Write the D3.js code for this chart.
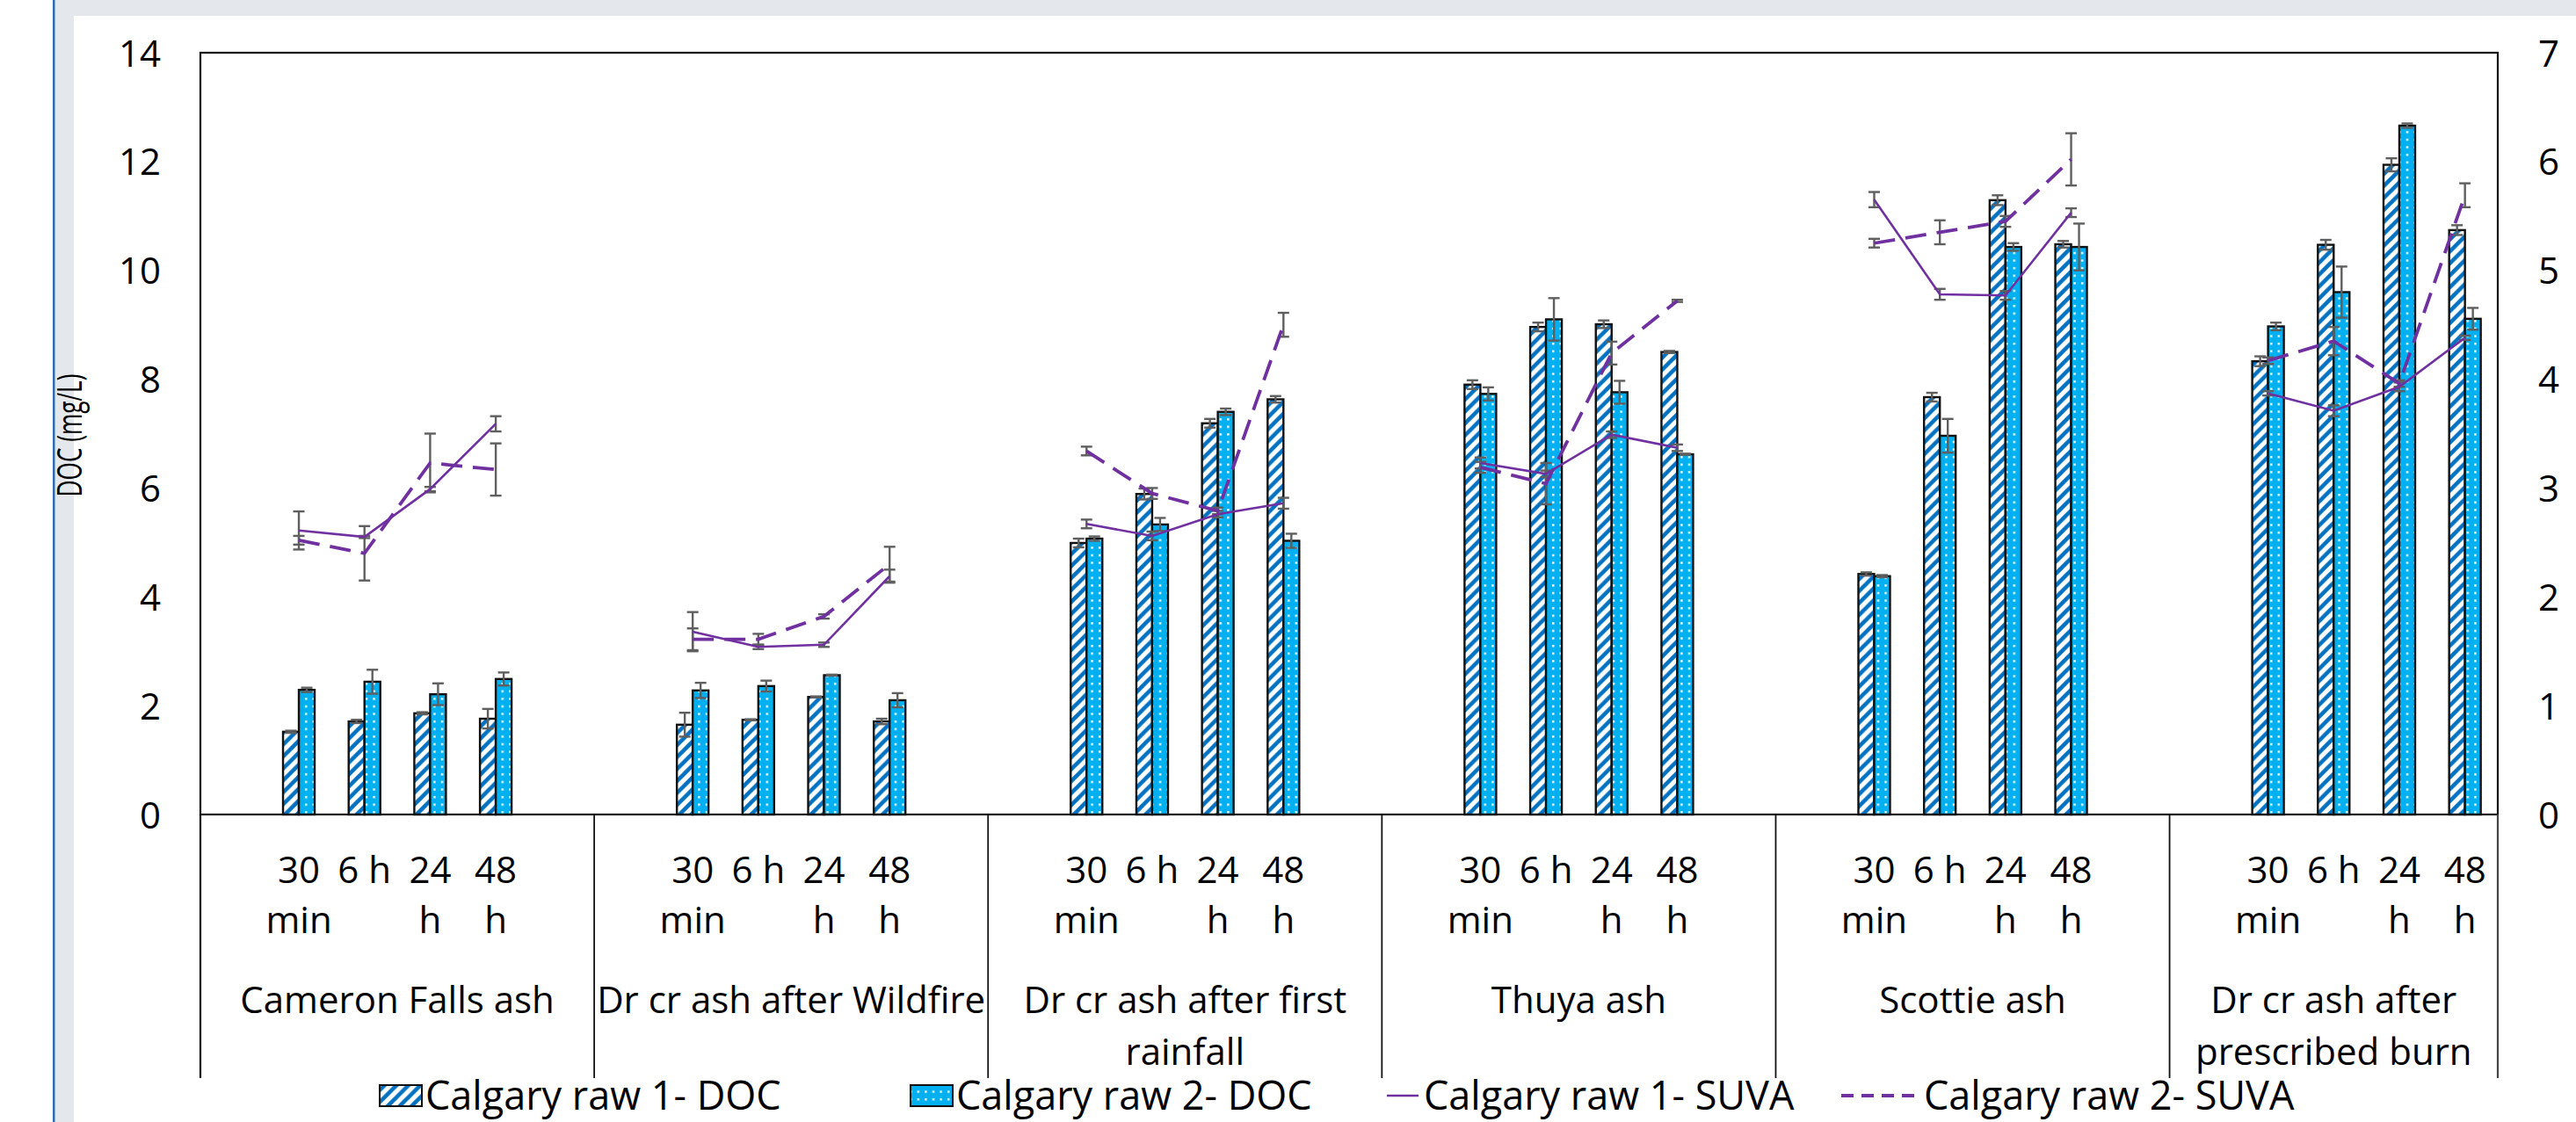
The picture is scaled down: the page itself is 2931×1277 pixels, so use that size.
<!DOCTYPE html>
<html>
<head>
<meta charset="utf-8">
<script src="https://cdn.jsdelivr.net/npm/d3@7"></script>
<style>
  html, body { margin: 0; padding: 0; background: #fff; }
  svg { display: block; }
  text { font-family: "Open Sans", sans-serif; fill: #000; }
</style>
</head>
<body>
<svg id="chart" width="2931" height="1277"></svg>
<script>
// ---- data -------------------------------------------------------------
const groups = [
  "Cameron Falls ash",
  "Dr cr ash after Wildfire",
  "Dr cr ash after first rainfall",
  "Thuya ash",
  "Scottie ash",
  "Dr cr ash after prescribed burn"
];
const timeLabels = ["30 min", "6 h", "24 h", "48 h"];

// DOC (mg/L), four sampling times per ash, groups in the order above
const doc1 = [1.52, 1.71, 1.86, 1.76,  1.65, 1.74, 2.16, 1.71,  4.99, 5.89, 7.19, 7.63,
              7.90, 8.96, 9.01, 8.50,  4.42, 7.67, 11.29, 10.48, 8.33, 10.47, 11.94, 10.74];
const doc1Err = [0.02, 0.03, 0.02, 0.18,  0.22, 0.01, 0.01, 0.05,  0.08, 0.10, 0.08, 0.06,
                 0.08, 0.08, 0.07, 0.02,  0.03, 0.08, 0.09, 0.06,  0.09, 0.09, 0.12, 0.09];
const doc2 = [2.29, 2.44, 2.21, 2.49,  2.28, 2.36, 2.56, 2.10,  5.07, 5.33, 7.40, 5.03,
              7.73, 9.10, 7.76, 6.62,  4.38, 6.96, 10.43, 10.43, 8.97, 9.60, 12.66, 9.11];
const doc2Err = [0.04, 0.22, 0.20, 0.12,  0.14, 0.10, 0.01, 0.13,  0.04, 0.12, 0.06, 0.13,
                 0.12, 0.39, 0.21, 0.01,  0.02, 0.31, 0.07, 0.43,  0.07, 0.47, 0.04, 0.20];

// SUVA (right axis)
const suva1 = [2.61, 2.55, 2.99, 3.59,  1.68, 1.54, 1.56, 2.19,  2.67, 2.56, 2.76, 2.86,
               3.23, 3.13, 3.49, 3.37,  5.65, 4.78, 4.77, 5.53,  3.87, 3.71, 3.93, 4.38];
const suva1Err = [0.175, 0.01, 0.02, 0.07,  0.18, 0.02, 0.02, 0.06,  0.04, 0.04, 0.03, 0.05,
                  0.05, 0.03, 0.03, 0.03,  0.07, 0.05, 0.04, 0.04,  0.02, 0.05, 0.04, 0.02];
const suva2 = [2.52, 2.40, 3.23, 3.17,  1.61, 1.61, 1.82, 2.30,  3.34, 2.95, 2.79, 4.50,
               3.19, 3.04, 4.24, 4.72,  5.25, 5.35, 5.45, 6.02,  4.17, 4.35, 3.96, 5.69];
const suva2Err = [0.04, 0.25, 0.27, 0.24,  0.10, 0.05, 0.02, 0.16,  0.04, 0.05, 0.03, 0.11,
                  0.05, 0.19, 0.105, 0.01, 0.04, 0.11, 0.05, 0.24,  0.03, 0.13, 0.03, 0.11];

const leftTicks = [0, 2, 4, 6, 8, 10, 12, 14];
const rightTicks = [0, 1, 2, 3, 4, 5, 6, 7];
const leftTitle = "DOC (mg/L)";
const seriesNames = ["Calgary raw 1- DOC", "Calgary raw 2- DOC", "Calgary raw 1- SUVA", "Calgary raw 2- SUVA"];

// ---- layout -----------------------------------------------------------
const W = 2931, H = 1277;
const plot = { left: 228, right: 2842, top: 60, bottom: 927 };
const FONT = 42;

const svg = d3.select("#chart");

// page frame behind the chart
svg.append("rect").attr("x", 0).attr("y", 0).attr("width", W).attr("height", H).attr("fill", "#fff");
svg.append("rect").attr("x", 62).attr("y", 0).attr("width", W - 62).attr("height", 18).attr("fill", "#e4e7ec");
svg.append("rect").attr("x", 62).attr("y", 0).attr("width", 22).attr("height", H).attr("fill", "#e4e7ec");
svg.append("rect").attr("x", 60).attr("y", 0).attr("width", 2.5).attr("height", H).attr("fill", "#2e6db5");

// category slots: an empty slot before each ash's four times and one after (none after the last)
const slots = [];
groups.forEach((g, gi) => {
  slots.push({ key: `g${gi}-a`, group: gi, idx: null });
  timeLabels.forEach((t, ti) => slots.push({ key: `g${gi}-t${ti}`, group: gi, idx: gi * 4 + ti, time: t }));
  if (gi < groups.length - 1) slots.push({ key: `g${gi}-b`, group: gi, idx: null });
});

const x = d3.scaleBand().domain(slots.map(s => s.key)).range([plot.left, plot.right]).paddingInner(0).paddingOuter(0);
const xPair = d3.scaleBand().domain(["r1", "r2"]).range([0, x.bandwidth()]).paddingInner(0).paddingOuter(1.075);
const yL = d3.scaleLinear().domain([0, 14]).range([plot.bottom, plot.top]);
const yR = d3.scaleLinear().domain([0, 7]).range([plot.bottom, plot.top]);

// ---- patterns -----------------------------------------------------------
const defs = svg.append("defs");
const hs = 13.6;
const hatch = defs.append("pattern").attr("id", "hatch").attr("patternUnits", "userSpaceOnUse")
  .attr("width", hs).attr("height", hs);
hatch.append("rect").attr("width", hs).attr("height", hs).attr("fill", "#fff");
hatch.append("path")
  .attr("d", `M${-hs / 2},${hs / 2} L${hs / 2},${-hs / 2} M0,${hs} L${hs},0 M${hs / 2},${hs * 1.5} L${hs * 1.5},${hs / 2}`)
  .attr("stroke", "#0070c0").attr("stroke-width", 4.6);

const ds = 8.6;
const dots = defs.append("pattern").attr("id", "dots").attr("patternUnits", "userSpaceOnUse")
  .attr("width", ds).attr("height", ds);
dots.append("rect").attr("width", ds).attr("height", ds).attr("fill", "#00b0f0");
dots.append("rect").attr("x", 3).attr("y", 3).attr("width", 2.4).attr("height", 2.4).attr("fill", "#fff");

// ---- plot frame ---------------------------------------------------------
const frame = svg.append("g");
frame.append("rect").attr("x", plot.left).attr("y", plot.top)
  .attr("width", plot.right - plot.left).attr("height", plot.bottom - plot.top)
  .attr("fill", "none").attr("stroke", "#111").attr("stroke-width", 2.2);

// ---- bars ---------------------------------------------------------------
const dataSlots = slots.filter(s => s.idx !== null);
const barG = svg.append("g");
const barSeries = [
  { key: "r1", vals: doc1, errs: doc1Err, fill: "url(#hatch)" },
  { key: "r2", vals: doc2, errs: doc2Err, fill: "url(#dots)" }
];
barSeries.forEach(ser => {
  barG.selectAll(null).data(dataSlots).join("rect")
    .attr("x", d => x(d.key) + xPair(ser.key))
    .attr("width", xPair.bandwidth())
    .attr("y", d => yL(ser.vals[d.idx]))
    .attr("height", d => yL(0) - yL(ser.vals[d.idx]))
    .attr("fill", ser.fill)
    .attr("stroke", "#111").attr("stroke-width", 2.4);
});

// error bars
const errColor = "#5f5f5f";
function errorBar(g, cx, yTop, yBot) {
  g.append("line").attr("x1", cx).attr("x2", cx).attr("y1", yTop).attr("y2", yBot);
  g.append("line").attr("x1", cx - 6.5).attr("x2", cx + 6.5).attr("y1", yTop).attr("y2", yTop);
  g.append("line").attr("x1", cx - 6.5).attr("x2", cx + 6.5).attr("y1", yBot).attr("y2", yBot);
}
const errG = svg.append("g").attr("stroke", errColor).attr("stroke-width", 2.4).attr("fill", "none");
barSeries.forEach(ser => {
  dataSlots.forEach(d => {
    const cx = x(d.key) + xPair(ser.key) + xPair.bandwidth() / 2;
    const v = ser.vals[d.idx], e = ser.errs[d.idx];
    errorBar(errG, cx, yL(v + e), yL(v - e));
  });
});

// ---- SUVA lines -----------------------------------------------------------
const lineSeries = [
  { vals: suva1, errs: suva1Err, dash: null, width: 2.6 },
  { vals: suva2, errs: suva2Err, dash: "24 12", width: 3.8 }
];
const line = d3.line()
  .defined(d => d.idx !== null)
  .x(d => x(d.key) + x.bandwidth() / 2);
lineSeries.forEach(ser => {
  dataSlots.forEach(d => {
    const cx = x(d.key) + x.bandwidth() / 2;
    const v = ser.vals[d.idx], e = ser.errs[d.idx];
    errorBar(errG, cx, yR(v + e), yR(v - e));
  });
});
lineSeries.forEach(ser => {
  svg.append("path")
    .datum(slots)
    .attr("d", line.y(d => d.idx === null ? 0 : yR(ser.vals[d.idx])))
    .attr("fill", "none")
    .attr("stroke", "#7030a0")
    .attr("stroke-width", ser.width)
    .attr("stroke-dasharray", ser.dash);
});

// ---- value axes -----------------------------------------------------------
const axL = svg.append("g").attr("transform", `translate(${plot.left},0)`)
  .call(d3.axisLeft(yL).tickValues(leftTicks).tickFormat(d3.format("d")).tickSize(0).tickPadding(45));
axL.select(".domain").remove();
axL.selectAll("text").attr("font-size", FONT).attr("font-family", "'Open Sans', sans-serif").attr("dy", "0.36em").attr("fill", "#000");

const axR = svg.append("g").attr("transform", `translate(${plot.right},0)`)
  .call(d3.axisRight(yR).tickValues(rightTicks).tickFormat(d3.format("d")).tickSize(0).tickPadding(46));
axR.select(".domain").remove();
axR.selectAll("text").attr("font-size", FONT).attr("font-family", "'Open Sans', sans-serif").attr("dy", "0.36em").attr("fill", "#000");

svg.append("text")
  .attr("transform", `translate(93,${(plot.top + plot.bottom) / 2 + 2}) rotate(-90)`)
  .attr("text-anchor", "middle")
  .attr("font-size", 39)
  .attr("textLength", 140)
  .attr("lengthAdjust", "spacingAndGlyphs")
  .text(leftTitle);

// ---- category axis (two levels) ------------------------------------------
const catG = svg.append("g");
const catBottom = 1227;
catG.append("line").attr("x1", plot.left).attr("x2", plot.left).attr("y1", plot.bottom).attr("y2", catBottom)
  .attr("stroke", "#111").attr("stroke-width", 2.2);
catG.append("line").attr("x1", plot.right).attr("x2", plot.right).attr("y1", plot.bottom).attr("y2", catBottom)
  .attr("stroke", "#444").attr("stroke-width", 2.2);

// wraps a label into lines no wider than maxW
function wrapLines(textSel, str, maxW) {
  const words = str.split(" ");
  const lines = [];
  let cur = "";
  words.forEach(w => {
    const trial = cur ? cur + " " + w : w;
    textSel.text(trial);
    if (cur && textSel.node().getComputedTextLength() > maxW) {
      lines.push(cur);
      cur = w;
    } else cur = trial;
  });
  lines.push(cur);
  textSel.text(null);
  return lines;
}

function drawLabel(cx, y0, str, maxW, lineH) {
  const t = catG.append("text").attr("font-size", FONT).attr("text-anchor", "middle");
  const lines = wrapLines(t, str, maxW);
  lines.forEach((ln, i) => {
    t.append("tspan").attr("x", cx).attr("y", y0 + i * lineH).text(ln);
  });
}

dataSlots.forEach(d => {
  drawLabel(x(d.key) + x.bandwidth() / 2, 1005, d.time, x.bandwidth() - 4, 57);
});

groups.forEach((g, gi) => {
  const gs = slots.filter(s => s.group === gi);
  const x0 = x(gs[0].key), x1 = x(gs[gs.length - 1].key) + x.bandwidth();
  if (gi > 0) {
    catG.append("line").attr("x1", x0).attr("x2", x0).attr("y1", plot.bottom).attr("y2", catBottom)
      .attr("stroke", "#111").attr("stroke-width", 1.8);
  }
  drawLabel((x0 + x1) / 2, 1153, g, x1 - x0 + 6, 59);
});

// ---- legend ---------------------------------------------------------------
const legY = 1247;
const LEGFONT = 45;
const legG = svg.append("g");
const legItems = [
  { name: seriesNames[0], type: "bar", fill: "url(#hatch)", x: 432 },
  { name: seriesNames[1], type: "bar", fill: "url(#dots)", x: 1036 },
  { name: seriesNames[2], type: "line", dash: null, width: 2.6, x: 1578 },
  { name: seriesNames[3], type: "line", dash: "14 9", width: 3.8, x: 2095 }
];
legItems.forEach(it => {
  if (it.type === "bar") {
    legG.append("rect").attr("x", it.x).attr("y", legY - 12).attr("width", 48).attr("height", 24)
      .attr("fill", it.fill).attr("stroke", "#111").attr("stroke-width", 2);
    legG.append("text").attr("x", it.x + 52).attr("y", legY).attr("dy", "0.36em")
      .attr("font-size", LEGFONT).text(it.name);
  } else {
    const len = it.dash ? 88 : 36;
    legG.append("line").attr("x1", it.x).attr("x2", it.x + len).attr("y1", legY).attr("y2", legY)
      .attr("stroke", "#7030a0").attr("stroke-width", it.width).attr("stroke-dasharray", it.dash);
    legG.append("text").attr("x", it.x + len + 6).attr("y", legY).attr("dy", "0.36em")
      .attr("font-size", LEGFONT).text(it.name);
  }
});
</script>
</body>
</html>
